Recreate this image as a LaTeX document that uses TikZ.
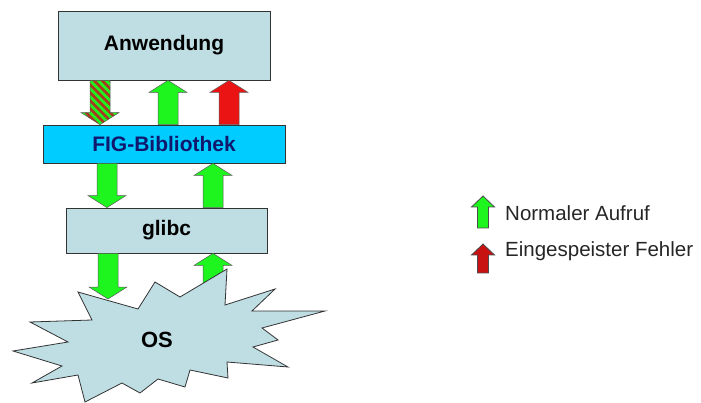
\documentclass[tikz,border=0pt]{standalone}
\usepackage{fontspec}
\setmainfont{Liberation Sans}
\usetikzlibrary{calc}
\definecolor{layerbg}{RGB}{190,222,228}
\definecolor{libbg}{RGB}{0,204,255}
\definecolor{libtext}{RGB}{16,24,110}
\definecolor{callgreen}{RGB}{30,245,30}
\definecolor{faultred}{RGB}{235,20,20}
\definecolor{stripe}{RGB}{170,55,35}
\tikzset{
  layer/.style={draw=black!80, line width=0.8pt, fill=layerbg, inner sep=0,
    font=\fontsize{21}{25}\selectfont\bfseries},
  callarrow/.style={draw=black!65, line width=0.5pt, fill=callgreen},
  faultarrow/.style={fill=faultred},
  hatched/.style={path picture={%
    \foreach \k in {-64,-56,...,64}
      \draw[stripe, line width=2.8pt]
        ([shift={(\k-40,-40)}]path picture bounding box.center) -- ++(80,80);}},
  keytext/.style={inner sep=0, text=black!85, font=\fontsize{20.5}{24}\selectfont},
}
% sizes of the block arrows
\newcommand{\shafthw}{10pt}
\newcommand{\headhw}{19pt}
\newcommand{\headlen}{12pt}
% vertical block arrow from #2 to #3
\newcommand{\callarrow}[3][]{%
  \path[callarrow,#1] let \p1=#2, \p2=#3, \p3=($#3!\headlen!#2$) in
    (\x1-\shafthw,\y1) -- (\x1-\shafthw,\y3) -- (\x1-\headhw,\y3) -- (\x2,\y2)
    -- (\x1+\headhw,\y3) -- (\x1+\shafthw,\y3) -- (\x1+\shafthw,\y1) -- cycle;}

\begin{document}
\begin{tikzpicture}[x=1pt,y=-1pt]
  \useasboundingbox (0,0) rectangle (701,403);

  % layers
  \node[layer, minimum width=212pt, minimum height=69pt] (app) at (164,45.5) {Anwendung};
  \node[layer, fill=libbg, text=libtext, minimum width=242pt, minimum height=38pt] (lib) at (164,144) {FIG-Bibliothek};
  \node[layer, minimum width=201pt, minimum height=45pt] (glibc) at (166.5,230.5) {glibc};

  % calls between the layers
  \callarrow[hatched]{(100,0 |- app.south)}{(100,0 |- lib.north)}
  \callarrow{(168,0 |- lib.north)}{(168,0 |- app.south)}
  \callarrow[faultarrow]{(229,0 |- lib.north)}{(229,0 |- app.south)}
  \callarrow{(107,0 |- lib.south)}{(107,0 |- glibc.north)}
  \callarrow{(213,0 |- glibc.north)}{(213,0 |- lib.south)}

  \coordinate (osin) at (108,299);
  \coordinate (osout) at (213,300);
  \callarrow{(osout)}{(213,0 |- glibc.south)}

  % the OS burst
  \draw[draw=black!80, line width=0.8pt, fill=layerbg]
    (78,292) -- (138,309) -- (155,282) -- (180,297) -- (227,269) -- (225,305)
    -- (275,289) -- (252,311) -- (325,311) -- (262,328) -- (278,340) -- (253,347)
    -- (288,367) -- (227,362) -- (228,378) -- (190,370) -- (185,387) -- (158,379)
    -- (140,393) -- (122,383) -- (85,402) -- (78,375) -- (32,383) -- (62,366)
    -- (13,351) -- (68,342) -- (30,322) -- (92,320) -- cycle;
  \node[font=\fontsize{22}{26}\selectfont\bfseries] (os) at (157,340) {OS};
  \callarrow{(108,0 |- glibc.south)}{(osin)}

  % legend
  \node[keytext, anchor=base west] (keycall) at (505,221) {Normaler Aufruf};
  \node[keytext, anchor=base west] (keyfault) at (505,257) {Eingespeister Fehler};
  \begin{scope}
    \renewcommand{\shafthw}{5.5pt}
    \renewcommand{\headhw}{11.5pt}
    \renewcommand{\headlen}{11pt}
    \callarrow[draw=black!70, line width=0.8pt]{(483,228)}{(483,196)}
    \callarrow[faultarrow, fill=faultred!85!black, draw=black!70, line width=0.8pt]{(483,273)}{(483,244)}
  \end{scope}
\end{tikzpicture}
\end{document}
